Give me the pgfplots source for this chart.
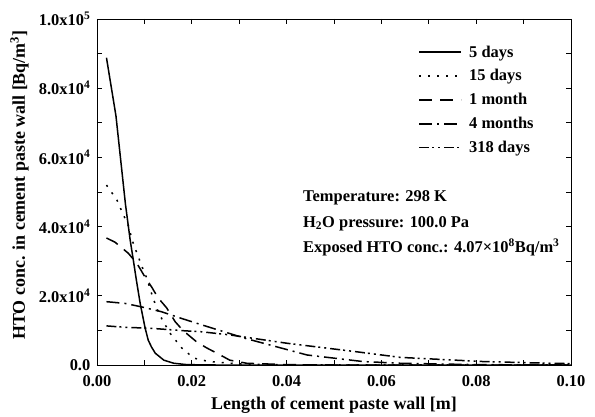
\documentclass[border=0pt]{standalone}
\usepackage{pgfplots}
\pgfplotsset{compat=1.18}
\usepackage{fontspec}
\setmainfont{Liberation Serif}
\begin{document}
\begin{tikzpicture}
\useasboundingbox (-97bp,-52bp) rectangle (498bp,365bp);
\begin{axis}[
  scale only axis, width=474bp, height=346bp,
  at={(0,0)}, anchor=south west,
  xmin=0, xmax=0.1, ymin=0, ymax=100000,
  scaled ticks=false,
  xtick={0,0.02,0.04,0.06,0.08,0.1},
  xticklabels={0.00,0.02,0.04,0.06,0.08,0.10},
  ytick={0,20000,40000,60000,80000,100000},
  yticklabels={0.0,2.0x10\textsuperscript{4},4.0x10\textsuperscript{4},6.0x10\textsuperscript{4},8.0x10\textsuperscript{4},1.0x10\textsuperscript{5}},
  minor x tick num=1, minor y tick num=1,
  tick align=inside, major tick length=5bp, minor tick length=5bp,
  axis line style={line width=0.8bp},
  every tick/.style={black, line width=0.8bp},
  ticklabel style={font=\fontsize{16.5}{18}\selectfont\bfseries, inner sep=1bp},
  xticklabel style={yshift=-9bp},
  yticklabel style={xshift=-5.5bp},
  xlabel={Length of cement paste wall [m]},
  ylabel={HTO conc. in cement paste wall [Bq/m\textsuperscript{3}]},
  label style={font=\fontsize{18}{20}\selectfont\bfseries, inner sep=0pt},
  xlabel style={at={(rel axis cs:0.5,0)}, anchor=base, yshift=-44bp},
  ylabel style={at={(rel axis cs:-0.1435,0.52)}, anchor=south},
  legend style={draw=none, fill=none, at={(rel axis cs:0.672,0.935)}, anchor=north west,
    font=\fontsize{16.5}{18}\selectfont\bfseries, row sep=7bp, column sep=5bp},
  legend cell align=left,
  legend image code/.code={\draw[#1, line width=1.5bp] (0bp,0bp) -- (42bp,0bp);},
]
\addplot[black, line width=1.5bp, solid] coordinates {
(0.002,88800) (0.004,72000) (0.006,46500) (0.007,36100) (0.0077,30000) (0.0083,24600) (0.0091,17900) (0.0101,11000) (0.0108,7200) (0.0115,5200) (0.0123,3400) (0.0141,1400) (0.0162,500) (0.019,100) (0.025,0) (0.1,0)};
\addlegendentry{5 days}
\addplot[black, line width=1.5bp, dash pattern=on 2bp off 7bp] coordinates {
(0.002,52000) (0.0042,47700) (0.0054,43900) (0.0067,40000) (0.0074,36100) (0.0084,32400) (0.0095,28400) (0.0105,25100) (0.0115,20700) (0.0126,16400) (0.0138,13000) (0.0154,9200) (0.0179,4900) (0.0204,2000) (0.0236,1000) (0.03,300) (0.04,50) (0.1,0)};
\addlegendentry{15 days}
\addplot[black, line width=1.5bp, dash pattern=on 13bp off 8bp] coordinates {
(0.002,36700) (0.0038,35500) (0.0066,32300) (0.0084,29400) (0.0101,25500) (0.0115,22600) (0.0129,19400) (0.0147,16500) (0.0165,12500) (0.0182,9900) (0.0211,6600) (0.0232,4900) (0.026,2900) (0.028,1400) (0.0316,500) (0.04,100) (0.05,0) (0.1,0)};
\addlegendentry{1 month}
\addplot[black, line width=1.5bp, dash pattern=on 13bp off 5bp on 2bp off 5bp] coordinates {
(0.002,18300) (0.0059,17800) (0.0094,16800) (0.0136,15400) (0.0182,13300) (0.0221,11600) (0.0287,8800) (0.031,7800) (0.0443,2900) (0.0561,1000) (0.064,500) (0.08,100) (0.1,0)};
\addlegendentry{4 months}
\addplot[black, line width=1.5bp, dash pattern=on 10bp off 3bp on 2bp off 4bp on 2bp off 4bp] coordinates {
(0.002,11300) (0.0059,10900) (0.0115,10600) (0.0183,9900) (0.0221,9600) (0.028,8700) (0.04,6300) (0.0549,3800) (0.064,2200) (0.0814,1000) (0.0956,500) (0.1,400)};
\addlegendentry{318 days}
\node[anchor=base west, inner sep=0pt, font=\fontsize{16.5}{18}\selectfont\bfseries] at (rel axis cs:0.4346,0.4725) {Temperature: 298 K};
\node[anchor=base west, inner sep=0pt, font=\fontsize{16.5}{18}\selectfont\bfseries] at (rel axis cs:0.4346,0.3988) {H\textsubscript{2}O pressure: 100.0 Pa};
\node[anchor=base west, inner sep=0pt, font=\fontsize{16.5}{18}\selectfont\bfseries] at (rel axis cs:0.4346,0.3237) {Exposed HTO conc.: 4.07×10\textsuperscript{8}Bq/m\textsuperscript{3}};
\end{axis}
\end{tikzpicture}
\end{document}
